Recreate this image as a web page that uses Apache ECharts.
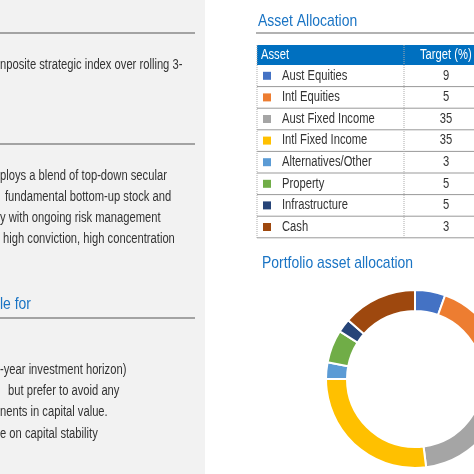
<!DOCTYPE html>
<html><head><meta charset="utf-8">
<script src="https://cdn.jsdelivr.net/npm/echarts@6/dist/echarts.min.js"></script>
<style>html,body{margin:0;padding:0;background:#fff}#c{width:474px;height:474px}</style>
</head><body><div id="c"></div>
<script>
const assets = ['Aust Equities', 'Intl Equities', 'Aust Fixed Income', 'Intl Fixed Income', 'Alternatives/Other', 'Property', 'Infrastructure', 'Cash'];
const targets = [9, 5, 35, 35, 3, 5, 5, 3];
// donut as drawn in the picture
const donutValues = [5.5, 14, 28.5, 27, 3, 6, 2.5, 13.5];
const colors = ['#4472c4', '#ed7d31', '#a5a5a5', '#ffc000', '#5b9bd5', '#70ad47', '#264478', '#9e480e'];
const leftLines = [
  ['nposite strategic index over rolling 3-', 0, 65],
  ['ploys a blend of top-down secular', 0, 176],
  ['fundamental bottom-up stock and', 5, 197],
  ['y with ongoing risk management', 0, 218],
  ['high conviction, high concentration', 3, 239],
  ['-year investment horizon)', 0, 370],
  ['but prefer to avoid any', 8, 391],
  ['nents in capital value.', 0, 412],
  ['e on capital stability', 0, 434]
];

const font = "'Liberation Sans','Arial',sans-serif";
const blue = '#1a74c4';
const g = [];
// narrow text: scale horizontally around its anchor
const txt = (t, x, y, size, fill, align, sx) => ({
  type: 'text', x, y, scaleX: sx || 0.8,
  style: { text: t, fill, font: size + 'px ' + font, textAlign: align || 'left', textVerticalAlign: 'middle' }
});
g.push({ type: 'rect', shape: { x: 0, y: 0, width: 205, height: 474 }, style: { fill: '#f2f2f2' } });
[33, 144, 318].forEach((y) => g.push({ type: 'line', shape: { x1: 0, y1: y, x2: 195, y2: y }, style: { stroke: '#555', lineWidth: 1 } }));
leftLines.forEach(([t, x, y]) => g.push(txt(t, x, y, 14, '#333')));
g.push(txt('le for', 0, 304, 17, blue, 'left', 0.82));

// right side
g.push(txt('Asset Allocation', 258, 21, 17, blue, 'left', 0.82));
g.push({ type: 'line', shape: { x1: 256, y1: 33, x2: 474, y2: 33 }, style: { stroke: '#666', lineWidth: 1.2 } });
g.push({ type: 'rect', shape: { x: 257, y: 45, width: 217, height: 20 }, style: { fill: '#0070c0' } });
g.push(txt('Asset', 261, 55, 14, '#fff'));
g.push(txt('Target (%)', 420, 55, 14, '#fff'));
const rowH = 21.6;
assets.forEach((a, i) => {
  const y0 = 65 + i * rowH;
  const cy = y0 + rowH / 2;
  g.push({ type: 'rect', shape: { x: 263, y: cy - 4, width: 8, height: 8 }, style: { fill: colors[i] } });
  g.push(txt(a, 282, cy, 14, '#333'));
  g.push(txt(String(targets[i]), 446, cy, 14, '#333', 'center'));
  g.push({ type: 'line', shape: { x1: 257, y1: y0 + rowH, x2: 474, y2: y0 + rowH }, style: { stroke: '#999', lineWidth: 1 } });
});
g.push({ type: 'line', shape: { x1: 257, y1: 45, x2: 257, y2: 238 }, style: { stroke: '#aaa', lineWidth: 1, lineDash: [1, 1] } });
g.push({ type: 'line', shape: { x1: 404, y1: 45, x2: 404, y2: 238 }, style: { stroke: '#aaa', lineWidth: 1, lineDash: [1, 1] } });
g.push(txt('Portfolio asset allocation', 262, 263, 17, blue, 'left', 0.82));

const chart = echarts.init(document.getElementById('c'));
chart.setOption({
  animation: false,
  graphic: g,
  series: [{
    type: 'pie',
    center: [415, 379],
    radius: [68, 89],
    startAngle: 90,
    clockwise: true,
    silent: true,
    label: { show: false },
    itemStyle: { borderColor: '#fff', borderWidth: 2 },
    data: assets.map((a, i) => ({ name: a, value: donutValues[i], itemStyle: { color: colors[i] } }))
  }]
});
</script></body></html>
